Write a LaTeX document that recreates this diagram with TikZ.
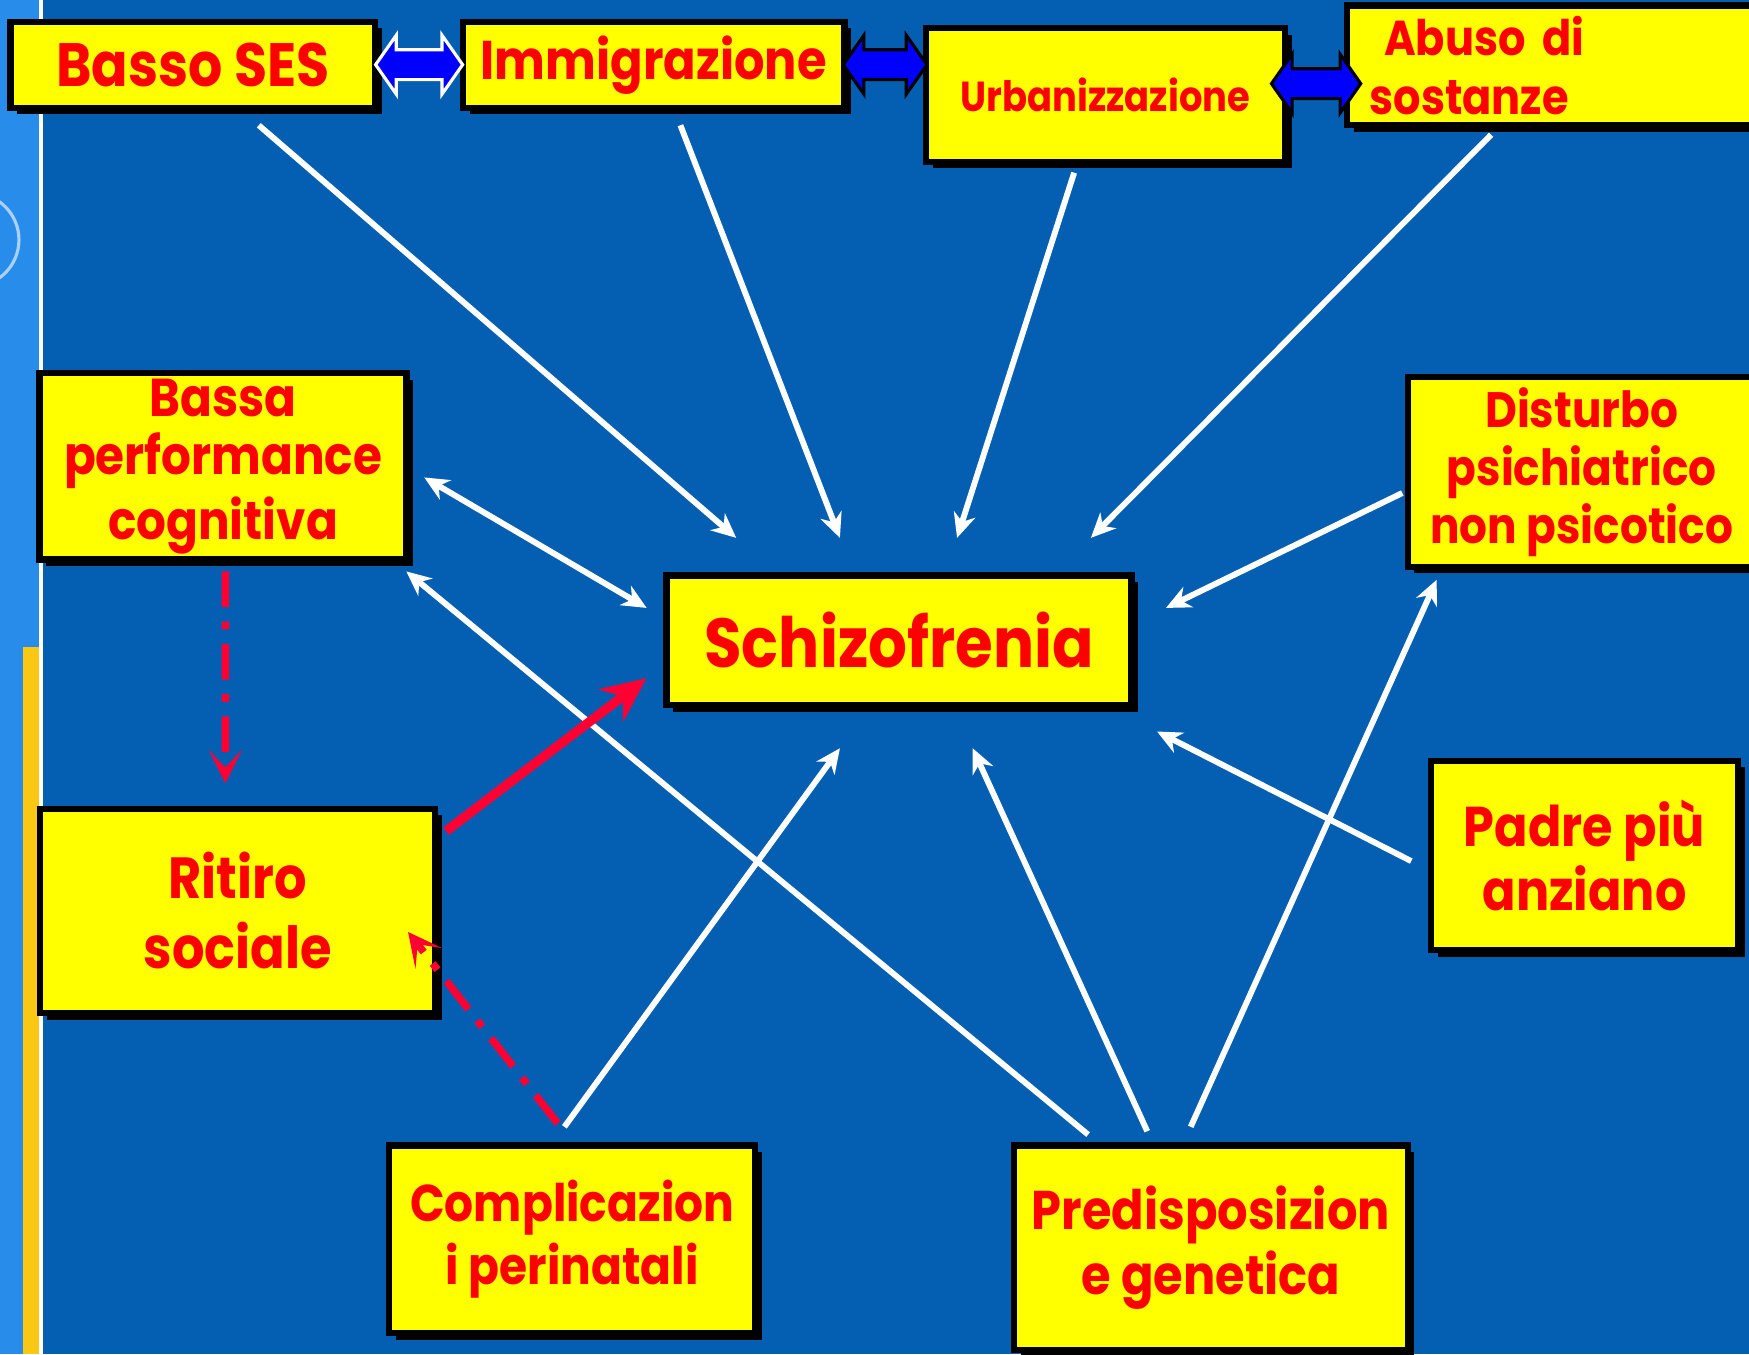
\documentclass[tikz,border=0pt]{standalone}
\usepackage{fontspec}
\setmainfont{Poppins}[FakeStretch=0.88]
\usepackage{tikz}
\usetikzlibrary{arrows.meta,positioning,calc,shapes.arrows,shadows}
\definecolor{sfondo}{RGB}{4,94,178}
\definecolor{giallo}{RGB}{255,255,0}
\definecolor{rosso}{RGB}{255,0,0}
\definecolor{rossofreccia}{RGB}{255,0,51}
\definecolor{striscia}{RGB}{40,140,235}
\definecolor{oro}{RGB}{250,200,20}
\newcommand{\fsz}[2]{\bfseries\fontsize{#1}{#2}\selectfont}
\tikzstyle{fattore}=[rectangle, draw=black, line width=1.6pt, fill=giallo, text=rosso,
  align=center, inner sep=0pt, drop shadow={shadow xshift=0.6mm, shadow yshift=-0.6mm, fill=black, opacity=1}]
\tikzstyle{freccia}=[-{Stealth[length=2.2mm,width=2mm,inset=0.7mm]}, white, line width=1.5pt]
\tikzstyle{frecciadoppia}=[{Stealth[length=2.2mm,width=2mm,inset=0.7mm]}-{Stealth[length=2.2mm,width=2mm,inset=0.7mm]}, white, line width=1.5pt]
\tikzstyle{blocco}=[double arrow, fill=blue, draw=black, line width=0.8pt, inner xsep=0pt, inner ysep=1.2mm,
  double arrow head extend=1.3mm, double arrow tip angle=110]
\tikzstyle{rossa}=[-{Stealth[length=4mm,width=3.6mm,inset=1.3mm]}, rossofreccia, line width=2.4pt]
\tikzstyle{tratteggio}=[-{Stealth[length=3mm,width=3mm,inset=1.6mm]}, rossofreccia, line width=1.9pt,
  dash pattern=on 3.2mm off 1.3mm on 0.7mm off 1.3mm]

\begin{document}
\begin{tikzpicture}[x=0.1mm,y=-0.1mm]
\useasboundingbox (0,0) rectangle (1568,1214);
\fill[sfondo] (0,0) rectangle (1568,1214);
% striscia a sinistra
\fill[striscia] (0,0) rectangle (36,1214);
\fill[oro] (21,580) rectangle (35,1214);
\draw[white, line width=1pt] (37,0) -- (37,1214);
\draw[white!60!striscia, line width=0.8pt] (-25,215) circle (42);
% fattori in alto
\node[fattore, minimum width=32.7mm, minimum height=7.7mm, font=\fsz{15.6}{18}] (ses) at (173,58) {Basso SES};
\node[fattore, minimum width=34.2mm, minimum height=7.7mm, font=\fsz{13.9}{18}] (imm) at (586,58) {Immigrazione};
\node[fattore, minimum width=32.2mm, minimum height=12mm, font=\fsz{10.7}{13}] (urb) at (991,85) {Urbanizzazione};
\node[fattore, anchor=west, minimum height=10.7mm, text width=36mm, inner xsep=2mm, align=left,
  font=\fsz{12.5}{15}] (abu) at (1205,58.5) {\hspace*{1.3mm}Abuso di\\sostanze};
% fattori ai lati
\node[fattore, minimum width=32.9mm, minimum height=16.7mm, font=\fsz{13.6}{16.4}] (bpc) at (200,418)
  {\raisebox{-0.5mm}{Bassa}\\performance\\cognitiva};
\node[fattore, minimum width=31.2mm, minimum height=17mm, font=\fsz{12.7}{14.8}] (dist) at (1418,423)
  {Disturbo\\psichiatrico\\non psicotico};
\node[fattore, minimum width=41.7mm, minimum height=11.6mm, font=\fsz{17.7}{22}] (schizo) at (806,574) {Schizofrenia};
\node[fattore, minimum width=35.4mm, minimum height=18.3mm, font=\fsz{14.8}{17.9}] (ritiro) at (213,816.5) {Ritiro\\sociale};
\node[fattore, minimum width=27.5mm, minimum height=17mm, font=\fsz{14.3}{16.5}] (padre) at (1420.5,767) {Padre più\\anziano};
% fattori in basso
\node[fattore, minimum width=32.8mm, minimum height=16.8mm, font=\fsz{13.2}{16.2}] (comp) at (513,1111)
  {Complicazion\\i perinatali};
\node[fattore, minimum width=35.3mm, minimum height=18.3mm, font=\fsz{13.9}{16.8}] (pred) at (1085.5,1118.5)
  {Predisposizion\\e genetica};
% frecce blu tra i fattori in alto
\node[blocco, draw=white, minimum height=7.8mm] (sesimm) at ($(ses.east)!0.5!(imm.west)$) {};
\node[blocco, minimum height=7.5mm] (immurb) at ($(imm.east)!0.5!(imm.east -| urb.west)$) {};
\node[blocco, minimum height=8mm] (urbabu) at ([yshift=1mm]$(urb.east)!0.5!(urb.east -| abu.west)$) {};
% frecce verso la schizofrenia
\draw[freccia] ([xshift=5.9mm,yshift=-1.3mm]ses.south) -- ([xshift=-14.6mm,yshift=3.1mm]schizo.north);
\draw[freccia] ([xshift=2.4mm,yshift=-1.3mm]imm.south) -- ([xshift=-5.3mm,yshift=3.1mm]schizo.north);
\draw[freccia] ([xshift=-2.8mm,yshift=-0.7mm]urb.south) -- ([xshift=5.2mm,yshift=3.1mm]schizo.north);
\draw[freccia] ([xshift=-7.1mm,yshift=-0.6mm]abu.south) -- ([xshift=17.2mm,yshift=3.1mm]schizo.north);
\draw[frecciadoppia] ([xshift=1.3mm,yshift=-1mm]bpc.east) -- ([xshift=-1.5mm,yshift=2.9mm]schizo.west);
\draw[freccia] ([xshift=-0.2mm,yshift=-1.9mm]dist.west) -- ([xshift=2.8mm,yshift=2.9mm]schizo.east);
\draw[freccia] ([xshift=-1.5mm,yshift=-0.5mm]padre.west) -- ([xshift=2mm,yshift=-2.1mm]schizo.south east);
\draw[freccia] ([xshift=-11mm,yshift=0.7mm]pred.north) -- ([xshift=-0.3mm,yshift=-0.8mm]bpc.south east);
\draw[freccia] ([xshift=-5.7mm,yshift=1mm]pred.north) -- ([xshift=6.6mm,yshift=-3.6mm]schizo.south);
\draw[freccia] ([xshift=-1.8mm,yshift=1.4mm]pred.north) -- ([xshift=-13mm,yshift=-0.9mm]dist.south);
\draw[freccia] ([xshift=-0.7mm,yshift=1.4mm]comp.north) -- ([xshift=-5.3mm,yshift=-3.6mm]schizo.south);
% frecce rosse
\draw[rossa] ([xshift=0.7mm,yshift=-2.3mm]ritiro.north east) -- ([xshift=-1.5mm,yshift=-3.4mm]schizo.west);
\draw[tratteggio] ([xshift=0.2mm,yshift=-0.8mm]bpc.south) -- ([xshift=-1.1mm,yshift=2mm]ritiro.north);
\draw[tratteggio] ([xshift=-1.3mm,yshift=1.7mm]comp.north) -- ([xshift=-2.7mm,yshift=-1.9mm]ritiro.east);
\end{tikzpicture}
\end{document}
